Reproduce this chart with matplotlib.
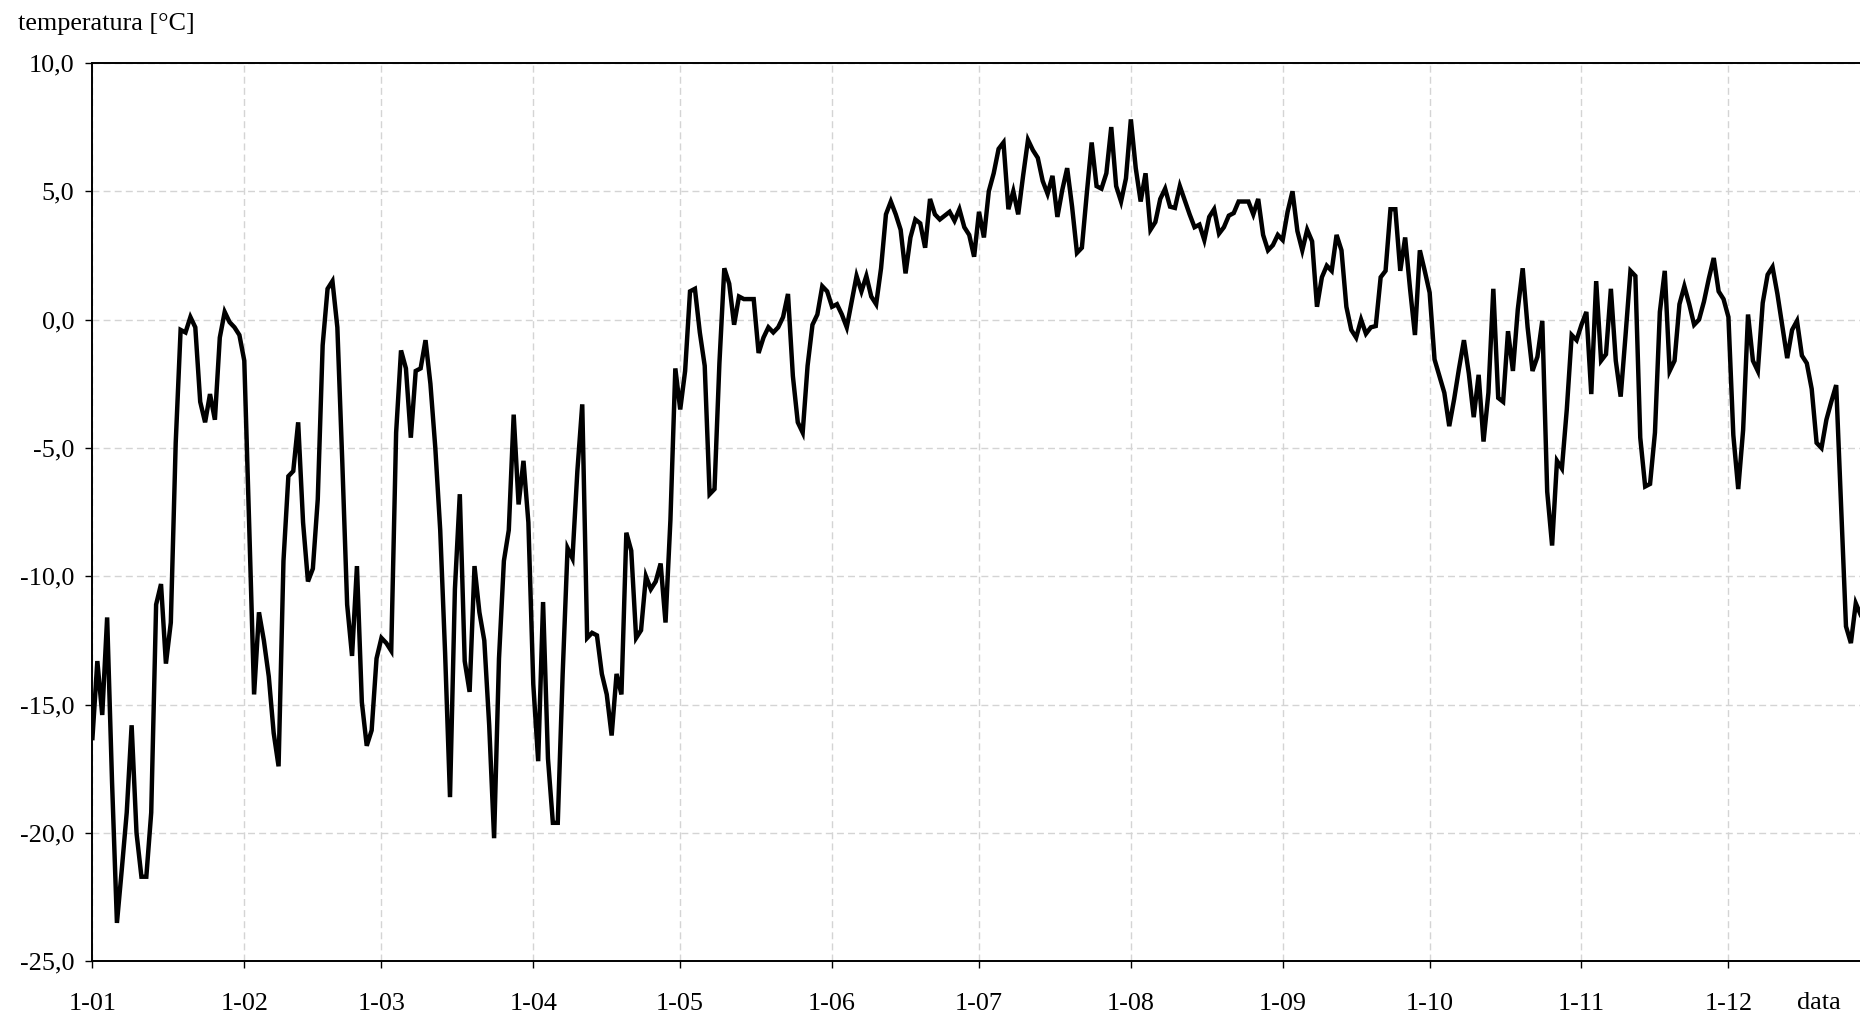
import numpy as np
import matplotlib
matplotlib.use('Agg')
import matplotlib.pyplot as plt

# Dobowe temperatury [°C], miesiąc po miesiącu
jan = [-16.3, -13.3, -15.4, -11.6, -18.0, -23.5, -21.4, -19.2, -15.8, -20.0,
       -21.7, -21.7, -19.2, -11.1, -10.3, -13.4, -11.8, -4.8, -0.4, -0.5,
       0.1, -0.3, -3.2, -4.0, -2.9, -3.9, -0.7, 0.3, -0.1, -0.3, -0.6]
feb = [-1.6, -8.0, -14.6, -11.4, -12.5, -13.9, -16.1, -17.4, -9.4, -6.1,
       -5.9, -4.0, -7.9, -10.2, -9.7, -7.0, -1.0, 1.2, 1.5, -0.3,
       -5.5, -11.1, -13.1, -9.6, -14.9, -16.6, -16.0, -13.2]
mar = [-12.4, -12.6, -12.9, -4.4, -1.2, -1.9, -4.6, -2.0, -1.9, -0.8,
       -2.5, -5.0, -8.2, -13.0, -18.6, -10.5, -6.8, -13.3, -14.5, -9.6,
       -11.4, -12.5, -15.8, -20.2, -13.2, -9.4, -8.2, -3.7, -7.2, -5.5, -7.9]
apr = [-14.2, -17.2, -11.0, -17.1, -19.6, -19.6, -13.8, -8.9, -9.3, -5.9,
       -3.3, -12.4, -12.2, -12.3, -13.8, -14.6, -16.2, -13.8, -14.6, -8.3,
       -9.0, -12.4, -12.1, -10.0, -10.5, -10.2, -9.5, -11.8, -7.8, -1.9]
may = [-3.5, -2.0, 1.1, 1.2, -0.5, -1.8, -6.8, -6.6, -1.7, 2.0,
       1.4, -0.2, 0.9, 0.8, 0.8, 0.8, -1.3, -0.7, -0.3, -0.5,
       -0.3, 0.1, 1.0, -2.2, -4.0, -4.4, -1.8, -0.2, 0.2, 1.3, 1.1]
jun = [0.5, 0.6, 0.2, -0.3, 0.7, 1.7, 1.1, 1.7, 0.9, 0.6,
       2.0, 4.1, 4.6, 4.1, 3.5, 1.8, 3.2, 3.9, 3.75, 2.8,
       4.7, 4.1, 3.9, 4.05, 4.2, 3.85, 4.3, 3.6, 3.3, 2.45]
jul = [4.2, 3.2, 5.0, 5.7, 6.65, 6.9, 4.3, 5.0, 4.1, 5.6,
       7.0, 6.6, 6.3, 5.4, 4.9, 5.6, 4.0, 5.05, 5.9, 4.4,
       2.6, 2.8, 4.9, 6.9, 5.2, 5.1, 5.7, 7.5, 5.2, 4.6, 5.5]
aug = [7.8, 5.9, 4.6, 5.7, 3.5, 3.8, 4.7, 5.1, 4.4, 4.35,
       5.2, 4.65, 4.1, 3.6, 3.7, 3.1, 4.0, 4.3, 3.35, 3.6,
       4.05, 4.15, 4.6, 4.6, 4.6, 4.1, 4.7, 3.3, 2.7, 2.9, 3.3]
sep = [3.1, 4.2, 5.0, 3.45, 2.7, 3.5, 3.05, 0.5, 1.65, 2.1,
       1.9, 3.3, 2.7, 0.5, -0.4, -0.7, 0.0, -0.55, -0.3, -0.25,
       1.65, 1.9, 4.3, 4.3, 1.9, 3.2, 1.2, -0.6, 2.7, 1.9]
oct_ = [1.05, -1.55, -2.2, -2.85, -4.15, -3.1, -1.9, -0.8, -2.1, -3.8,
        -2.15, -4.75, -2.85, 1.2, -3.05, -3.2, -0.45, -2.0, 0.4, 2.0,
        -0.3, -2.0, -1.45, -0.05, -6.7, -8.8, -5.5, -5.8, -3.5, -0.6, -0.8]
nov = [-0.2, 0.3, -2.9, 1.5, -1.6, -1.35, 1.2, -1.6, -3.0, -0.6,
       1.9, 1.7, -4.6, -6.5, -6.4, -4.4, 0.3, 1.9, -2.0, -1.6,
       0.6, 1.3, 0.6, -0.2, 0.0, 0.7, 1.6, 2.4, 1.1, 0.8]
dec = [0.1, -4.5, -6.6, -4.3, 0.2, -1.6, -2.0, 0.65, 1.75, 2.05,
       1.0, -0.25, -1.5, -0.4, -0.05, -1.4, -1.7, -2.7, -4.8, -5.0,
       -3.9, -3.2, -2.55, -7.2, -11.95, -12.6, -11.05, -11.5]

temp = jan + feb + mar + apr + may + jun + jul + aug + sep + oct_ + nov + dec
days = np.arange(len(temp))

month_starts = [0, 31, 59, 90, 120, 151, 181, 212, 243, 273, 304, 334]
month_labels = ['1-01', '1-02', '1-03', '1-04', '1-05', '1-06',
                '1-07', '1-08', '1-09', '1-10', '1-11', '1-12']
y_ticks = [-25, -20, -15, -10, -5, 0, 5, 10]

plt.rcParams['font.family'] = ['Liberation Serif', 'DejaVu Serif']
plt.rcParams['font.size'] = 18.8

fig = plt.figure(figsize=(18.6, 10.16), dpi=100)
# os X wychodzi poza prawą krawędź rysunku, jak w oryginale
ax = fig.add_axes([0.0497, 0.0537, 0.9612, 0.8844])

ax.plot(days, temp, color='black', lw=3.2, solid_joinstyle='miter', zorder=3)

ax.set_xlim(0, 365)
ax.set_ylim(-25, 10)
ax.set_xticks(month_starts)
ax.set_xticklabels(month_labels)
ax.set_yticks(y_ticks)
ax.set_yticklabels([f"{v:.1f}".replace('.', ',') for v in y_ticks])

ax.grid(True, color='#d4d4d4', linestyle=(0, (5, 3)), lw=1.0, zorder=0)
for side in ['left', 'top', 'bottom']:
    ax.spines[side].set_linewidth(1.4)
    ax.spines[side].set_color('black')
ax.spines['right'].set_visible(False)

ax.tick_params(axis='y', direction='out', length=5, width=1, pad=8)
ax.tick_params(axis='x', direction='out', length=5, width=1, pad=18)

fig.text(18 / 1860, 1 - 24 / 1016, 'temperatura [°C]', ha='left', va='center')
fig.text(1797 / 1860, 1 - 1003 / 1016, 'data', ha='left', va='center')

plt.savefig('out.png', dpi=100)
plt.close()
